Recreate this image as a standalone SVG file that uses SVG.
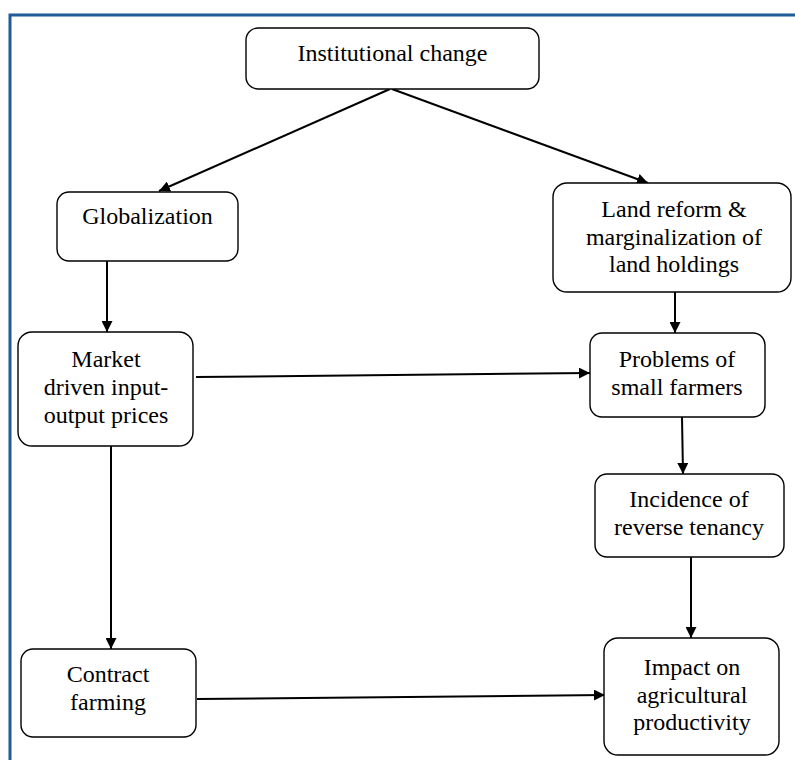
<svg xmlns="http://www.w3.org/2000/svg" width="795" height="760" viewBox="0 0 795 760">
<defs>
<style>
.box{fill:#ffffff;stroke:#000000;stroke-width:1.4}
.t{font-family:'Liberation Serif','Times New Roman',Tinos,'DejaVu Serif',serif;font-size:24px;fill:#000000;text-anchor:middle}
.c{stroke:#000000;stroke-width:2;fill:none;marker-end:url(#ah)}
.frame{stroke:#1F5C99;stroke-width:3;fill:none}
</style>
<marker id="ah" viewBox="0 0 10 10" refX="10" refY="5" markerWidth="11" markerHeight="11" markerUnits="userSpaceOnUse" orient="auto">
<path d="M0,0 L10,5 L0,10 z" fill="#000000"/>
</marker>
</defs>
<rect width="795" height="760" fill="#ffffff"/>
<g id="frame">
<path class="frame" d="M10,760 L10,15 L795,15"/>
</g>
<g id="connectors">
<line class="c" x1="390" y1="89" x2="159" y2="191"/>
<line class="c" x1="392" y1="89" x2="648" y2="183"/>
<line class="c" x1="107" y1="261" x2="107" y2="332"/>
<line class="c" x1="675" y1="292" x2="675" y2="333"/>
<line class="c" x1="196" y1="377" x2="590" y2="373"/>
<line class="c" x1="682" y1="417" x2="683" y2="474"/>
<line class="c" x1="111" y1="446" x2="111" y2="649"/>
<line class="c" x1="691" y1="557" x2="691" y2="638"/>
<line class="c" x1="197" y1="699" x2="605" y2="695"/>
</g>
<g font-family="Liberation Serif, Times New Roman, serif">
<g id="institutional">
<rect class="box" x="246" y="28" width="293" height="61" rx="12"/>
<text class="t" x="392.5" y="61">Institutional change</text>
</g>
<g id="globalization">
<rect class="box" x="57" y="192" width="181" height="69" rx="12"/>
<text class="t" x="147.5" y="224">Globalization</text>
</g>
<g id="landreform">
<rect class="box" x="553" y="183" width="238" height="109" rx="14"/>
<text class="t" x="674" y="217">Land reform &amp;</text>
<text class="t" x="674" y="245">marginalization of</text>
<text class="t" x="674" y="272">land holdings</text>
</g>
<g id="market">
<rect class="box" x="18" y="332" width="175" height="114" rx="14"/>
<text class="t" x="106" y="367">Market</text>
<text class="t" x="106" y="395">driven input-</text>
<text class="t" x="106" y="423">output prices</text>
</g>
<g id="problems">
<rect class="box" x="590" y="333" width="175" height="84" rx="12"/>
<text class="t" x="677" y="367">Problems of</text>
<text class="t" x="677" y="395">small farmers</text>
</g>
<g id="incidence">
<rect class="box" x="595" y="474" width="189" height="83" rx="12"/>
<text class="t" x="689" y="507">Incidence of</text>
<text class="t" x="689" y="535">reverse tenancy</text>
</g>
<g id="contract">
<rect class="box" x="21" y="649" width="175" height="88" rx="12"/>
<text class="t" x="108" y="682">Contract</text>
<text class="t" x="108" y="710">farming</text>
</g>
<g id="impact">
<rect class="box" x="604" y="638" width="175" height="117" rx="14"/>
<text class="t" x="692" y="675">Impact on</text>
<text class="t" x="692" y="703">agricultural</text>
<text class="t" x="692" y="730">productivity</text>
</g>
</g>
</svg>
